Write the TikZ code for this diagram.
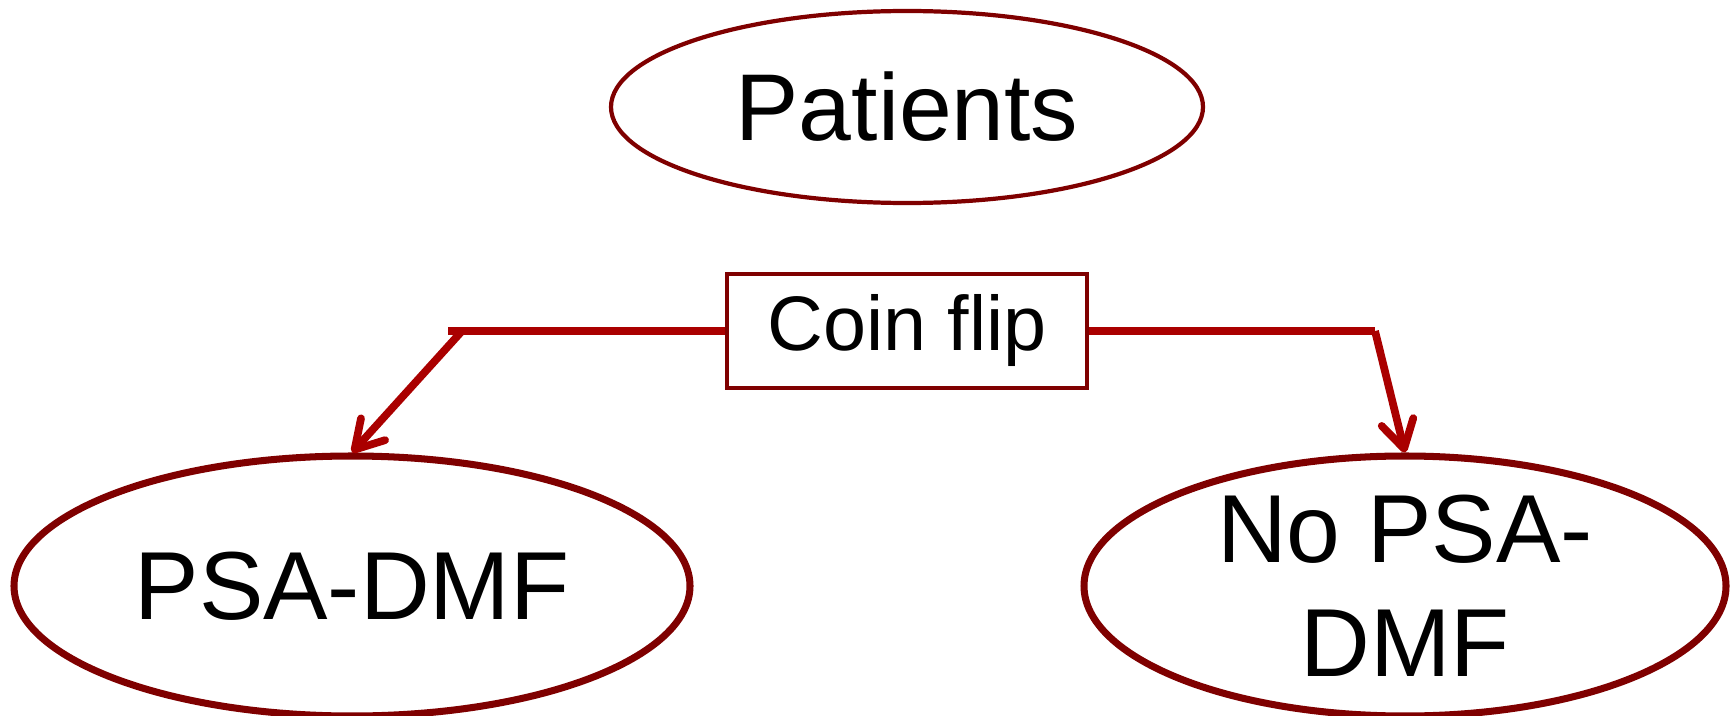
\documentclass[tikz,border=0pt]{standalone}
\usepackage{fontspec}
\setmainfont{Liberation Sans}
\usetikzlibrary{shapes.geometric,arrows.meta}
\definecolor{rimred}{HTML}{7F0000}
\definecolor{linkred}{HTML}{AA0000}

\begin{document}
\begin{tikzpicture}[
    group/.style={draw=rimred, ellipse, inner sep=0pt, align=center},
    flipbox/.style={draw=rimred, line width=2.2pt, minimum width=7.2cm, minimum height=2.28cm, inner sep=0pt},
    link/.style={draw=linkred, line width=4.4pt},
    tip/.style={-{Straight Barb[length=5.5mm, width=6.5mm, round]}}
  ]
  \useasboundingbox (0,0) rectangle (34.7,-14.32);
  \node [group, line width=2.4pt, minimum width=11.84cm, minimum height=3.84cm, font=\fontsize{54}{64}\selectfont] (patients) at (18.14,-2.14) {Patients};
  \node [flipbox, font=\fontsize{44}{52}\selectfont] (flip) at (18.14,-6.62) {Coin flip};
  \node [group, line width=4pt, minimum width=13.52cm, minimum height=5.2cm, font=\fontsize{55}{65}\selectfont] (psa) at (7.04,-11.72) {PSA-DMF};
  \node [group, line width=4pt, minimum width=12.84cm, minimum height=5.2cm, font=\fontsize{55}{65}\selectfont] (nopsa) at (28.1,-11.72) {No PSA-\\DMF};
  \coordinate (lend) at (8.96,-6.62);
  \coordinate (lbend) at (9.24,-6.62);
  \coordinate (rbend) at (27.5,-6.62);
  \draw [link] (flip.west) -- (lend);
  \draw [link, tip] (lbend) -- (psa.north);
  \draw [link] (flip.east) -- (rbend);
  \draw [link, tip] (rbend) -- (nopsa.north);
\end{tikzpicture}
\end{document}
